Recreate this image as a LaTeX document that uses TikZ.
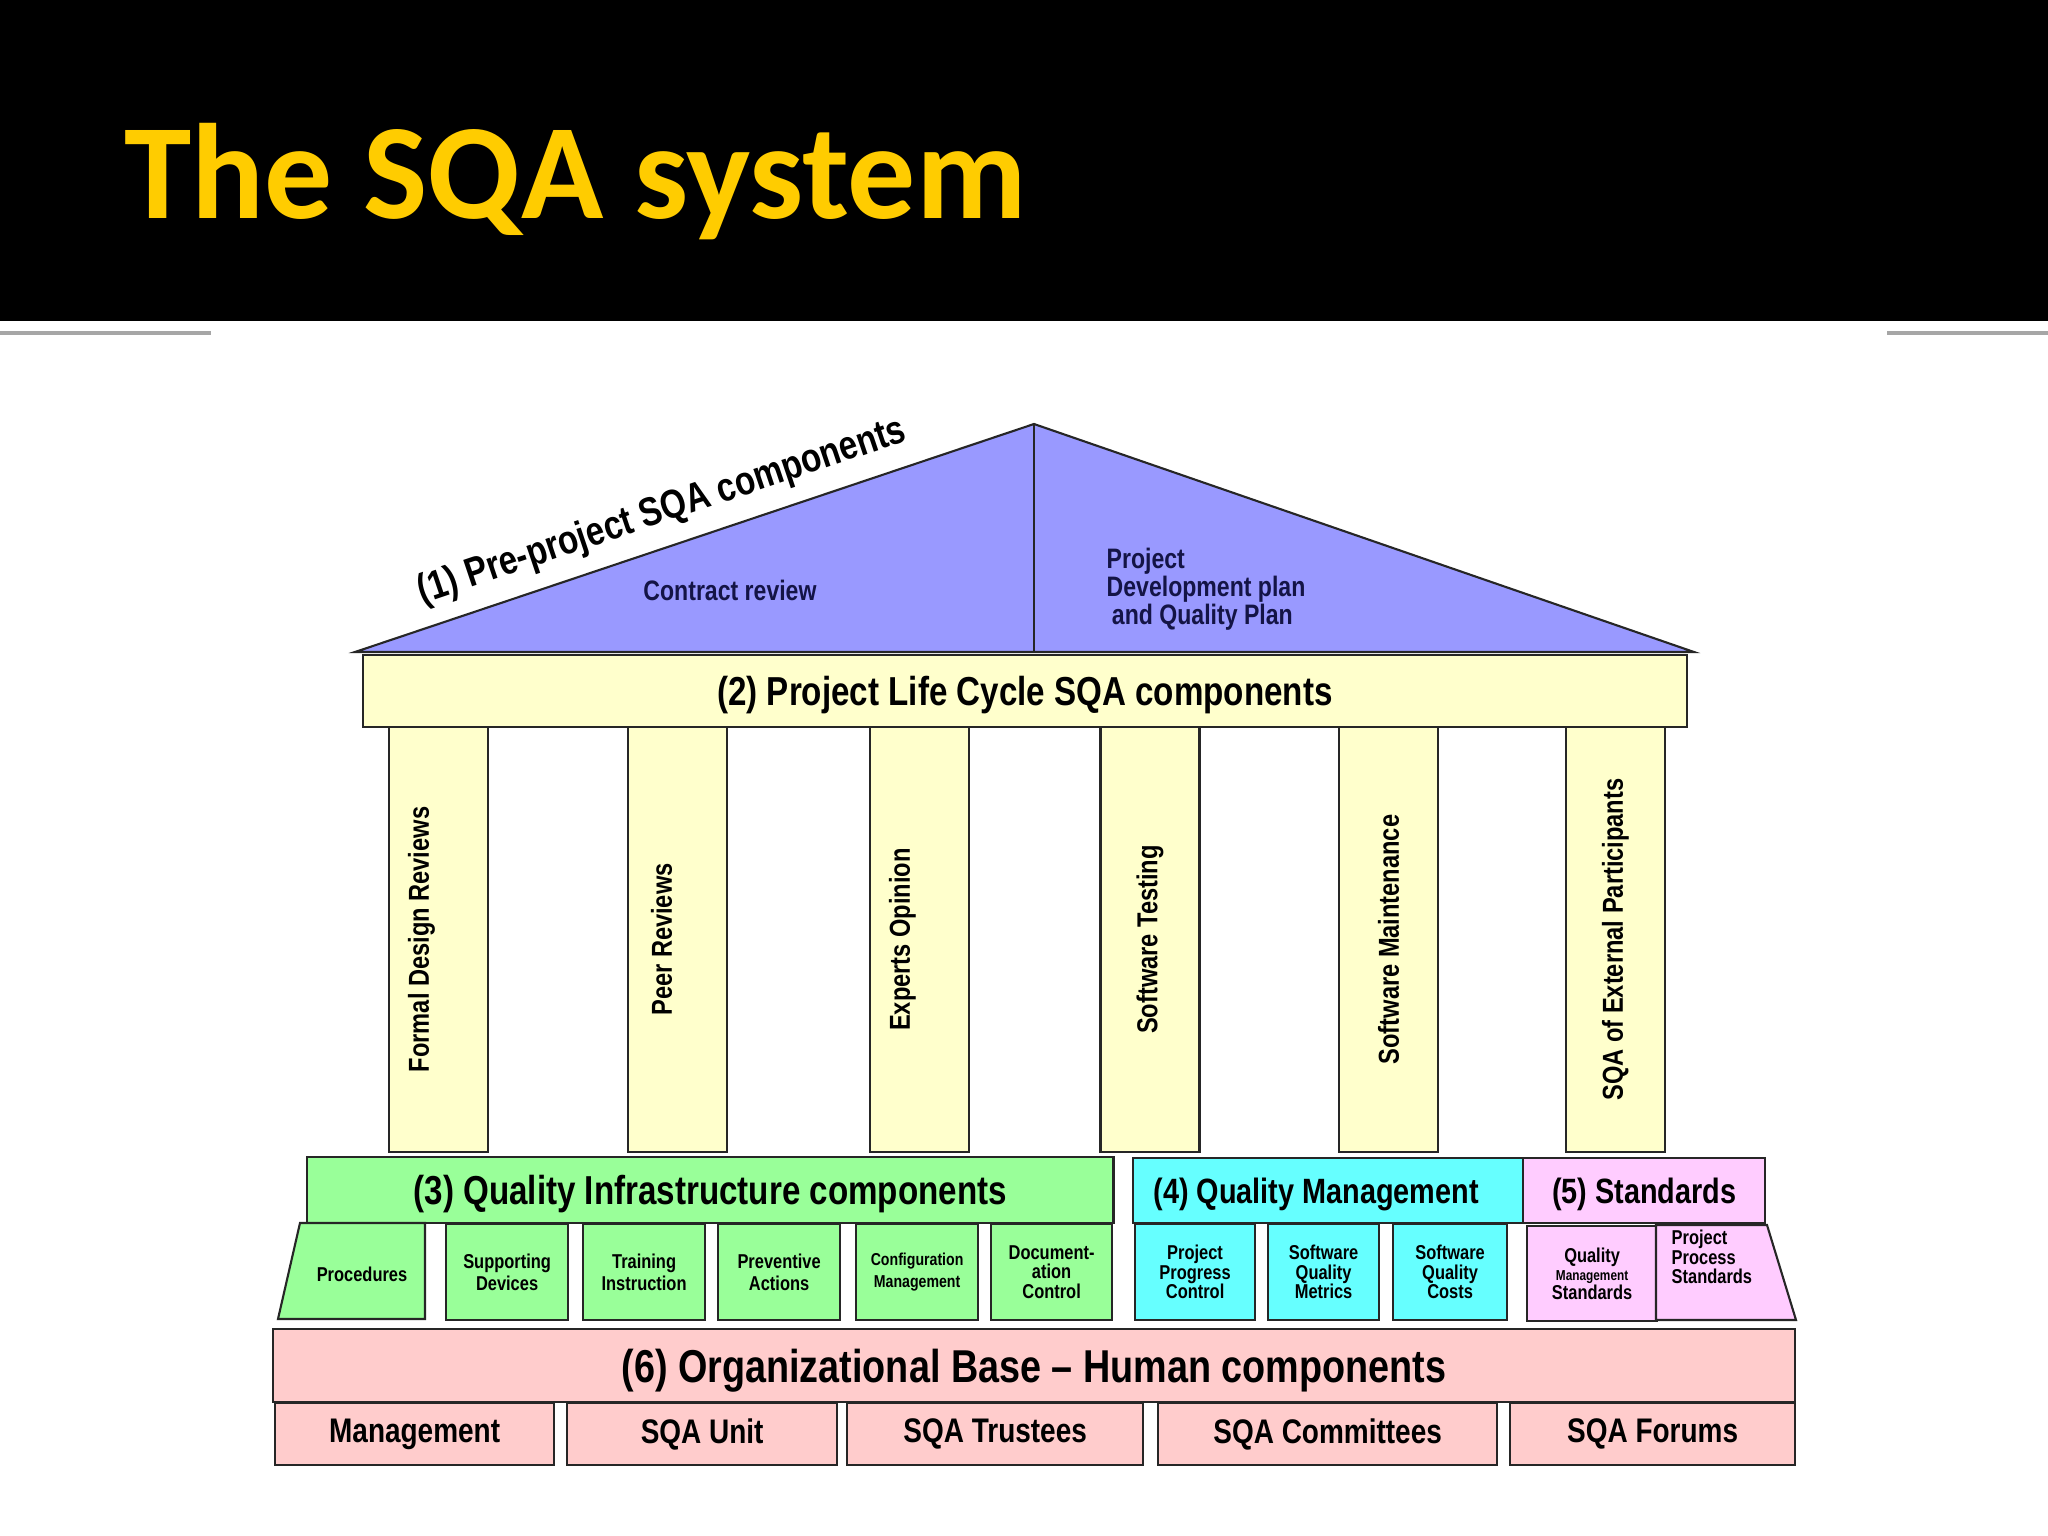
\documentclass[tikz,border=0pt]{standalone}
\usepackage{fontspec}
\setmainfont{Liberation Sans}[FakeStretch=0.82]
\newfontfamily\titlefont{Carlito}
\definecolor{roofblue}{RGB}{153,153,255}
\definecolor{roofink}{RGB}{20,20,70}
\definecolor{beamyellow}{RGB}{255,255,204}
\definecolor{infragreen}{RGB}{153,255,153}
\definecolor{mgmtcyan}{RGB}{102,255,255}
\definecolor{stdpink}{RGB}{255,204,255}
\definecolor{basepink}{RGB}{255,204,204}
\definecolor{titleyellow}{RGB}{255,204,0}
\tikzset{
  cell/.style={draw=black!85, line width=0.6pt, inner sep=0pt, anchor=north west, align=center},
  pillar/.style={draw=black!85, line width=0.6pt, fill=beamyellow, inner sep=0pt,
    minimum width=0.99cm, minimum height=4.25cm},
  pillarlbl/.style={rotate=90, inner sep=0pt, font={\fontsize{8.2}{9}\selectfont\bfseries}},
  bigtxt/.style={text depth=0pt, font={\fontsize{11.5}{13}\selectfont\bfseries}},
  midtxt/.style={text depth=0pt, font={\fontsize{10}{11}\selectfont\bfseries}},
  basetxt/.style={font={\fontsize{9.7}{11}\selectfont\bfseries}},
  smalltxt/.style={font={\fontsize{5.7}{6.4}\selectfont\bfseries}},
  rooftxt/.style={text=roofink, inner sep=0pt,
    font={\fontsize{8}{8}\selectfont\bfseries\lineskiplimit=-10pt}}
}
\begin{document}
\begin{tikzpicture}[x=0.01cm, y=0.01cm]
\useasboundingbox (0,0) rectangle (2048,-1536);
\fill[white] (0,0) rectangle (2048,-1536);
% Header band
\fill[black] (0,0) rectangle (2048,-321);
\node[anchor=base west, inner sep=0pt, text=titleyellow,
  font={\titlefont\bfseries\fontsize{38.6}{40}\selectfont}] (title) at (124,-218) {The SQA system};
\draw[gray!70, line width=1.2pt] (0,-333) -- (211,-333);
\draw[gray!70, line width=1.2pt] (1887,-333) -- (2048,-333);

% Roof: pre-project components
\coordinate (RT) at (1034,-424);
\coordinate (RL) at (355,-652);
\coordinate (RR) at (1694,-652);
\draw[fill=roofblue, draw=black!85, line width=0.6pt] (RL) -- (RT) -- (RR) -- cycle;
\draw[black!85, line width=0.6pt] (RT) -- (RT |- RL);
\node[bigtxt, rotate=18.6] (pre) at (661,-508) {(1) Pre-project SQA components};
\node[rooftxt] (contract) at (730,-590) {Contract review};
\node[rooftxt, anchor=west, align=left] (devplan) at (1106,-589)
  {Project\\Development plan\\\hspace*{1.5pt}and Quality Plan};

% Beam: life cycle components
\node[cell, fill=beamyellow, bigtxt, minimum width=13.23cm, minimum height=0.72cm] (beam)
  at (362,-654) {(2) Project Life Cycle SQA components};

% Pillars
\node[pillar] (fdr) at (438.5,-939.5) {};
\node[pillar] (peer) at (677.5,-939.5) {};
\node[pillar] (expert) at (919.5,-939.5) {};
\node[pillar] (testing) at (1150,-939.5) {};
\node[pillar] (maint) at (1388.5,-939.5) {};
\node[pillar] (extern) at (1615.5,-939.5) {};
\node[pillarlbl] (fdrlbl) at ([xshift=-0.17cm]fdr.center) {Formal Design Reviews};
\node[pillarlbl] (peerlbl) at ([xshift=-0.16cm]peer.center) {Peer Reviews};
\node[pillarlbl] (expertlbl) at ([xshift=-0.17cm]expert.center) {Experts Opinion};
\node[pillarlbl] (testinglbl) at (testing.center) {Software Testing};
\node[pillarlbl] (maintlbl) at (maint.center) {Software Maintenance};
\node[pillarlbl] (externlbl) at (extern.center) {SQA of External Participants};

% Quality infrastructure components
\node[cell, fill=infragreen, bigtxt, minimum width=8.06cm, minimum height=0.66cm] (infra)
  at (306,-1156) {(3) Quality Infrastructure components};
\draw[fill=infragreen, draw=black!85, line width=0.6pt]
  (300,-1223) -- (425,-1223) -- (425,-1319) -- (278,-1319) -- cycle;
\node[smalltxt] (proc) at (362,-1274) {Procedures};
\node[cell, fill=infragreen, smalltxt, minimum width=1.22cm, minimum height=0.96cm] (devices)
  at (445,-1223) {Supporting\\Devices};
\node[cell, fill=infragreen, smalltxt, minimum width=1.22cm, minimum height=0.96cm] (training)
  at (582,-1223) {Training\\Instruction};
\node[cell, fill=infragreen, smalltxt, minimum width=1.22cm, minimum height=0.96cm] (prevent)
  at (717,-1223) {Preventive\\Actions};
\node[cell, fill=infragreen, minimum width=1.22cm, minimum height=0.96cm,
  font={\fontsize{4.9}{6.4}\selectfont\bfseries}] (config)
  at (855,-1223) {Configuration\\Management};
\node[cell, fill=infragreen, minimum width=1.21cm, minimum height=0.96cm,
  font={\fontsize{5.7}{5.5}\selectfont\bfseries}] (docctl)
  at (990,-1223) {Document-\\ation\\Control};

% Quality management components
\node[cell, fill=mgmtcyan, midtxt, minimum width=3.90cm, minimum height=0.65cm] (qmgmt)
  at (1132,-1157) {(4) Quality Management\hspace*{0.24cm}};
\node[cell, fill=mgmtcyan, minimum width=1.20cm, minimum height=0.96cm,
  font={\fontsize{5.7}{5.5}\selectfont\bfseries}] (progress)
  at (1134,-1223) {Project\\Progress\\Control};
\node[cell, fill=mgmtcyan, minimum width=1.11cm, minimum height=0.96cm,
  font={\fontsize{5.7}{5.5}\selectfont\bfseries}] (metrics)
  at (1267,-1223) {Software\\Quality\\Metrics};
\node[cell, fill=mgmtcyan, minimum width=1.14cm, minimum height=0.96cm,
  font={\fontsize{5.7}{5.5}\selectfont\bfseries}] (costs)
  at (1392,-1223) {Software\\Quality\\Costs};

% Standards
\node[cell, fill=stdpink, midtxt, minimum width=2.42cm, minimum height=0.65cm] (standards)
  at (1522,-1157) {(5) Standards};
\node[cell, fill=stdpink, minimum width=1.30cm, minimum height=0.95cm,
  font={\fontsize{5.7}{5.2}\selectfont\bfseries}] (qmstd)
  at (1526,-1225) {Quality\\{\fontsize{4.1}{5.2}\selectfont Management}\\Standards};
\draw[fill=stdpink, draw=black!85, line width=0.6pt]
  (1656,-1225) -- (1767,-1225) -- (1796,-1320) -- (1656,-1320) -- cycle;
\node[anchor=west, align=left, inner sep=0pt,
  font={\fontsize{5.7}{5.6}\selectfont\bfseries}] (ppstd) at (1671,-1257)
  {Project\\Process\\Standards};

% Organizational base
\node[cell, fill=basepink, minimum width=15.21cm, minimum height=0.73cm, text depth=0pt,
  font={\fontsize{13.1}{15}\selectfont\bfseries}] (orgbase)
  at (272,-1328) {(6) Organizational Base -- Human components};
\node[cell, fill=basepink, basetxt, minimum width=2.79cm, minimum height=0.62cm] (mgmt)
  at (274,-1402) {Management};
\node[cell, fill=basepink, basetxt, minimum width=2.70cm, minimum height=0.62cm] (unit)
  at (566,-1402) {SQA Unit};
\node[cell, fill=basepink, basetxt, minimum width=2.96cm, minimum height=0.62cm] (trustees)
  at (846,-1402) {SQA Trustees};
\node[cell, fill=basepink, basetxt, minimum width=3.39cm, minimum height=0.62cm] (committees)
  at (1157,-1402) {SQA Committees};
\node[cell, fill=basepink, basetxt, minimum width=2.85cm, minimum height=0.62cm] (forums)
  at (1509,-1402) {SQA Forums};
\end{tikzpicture}
\end{document}
